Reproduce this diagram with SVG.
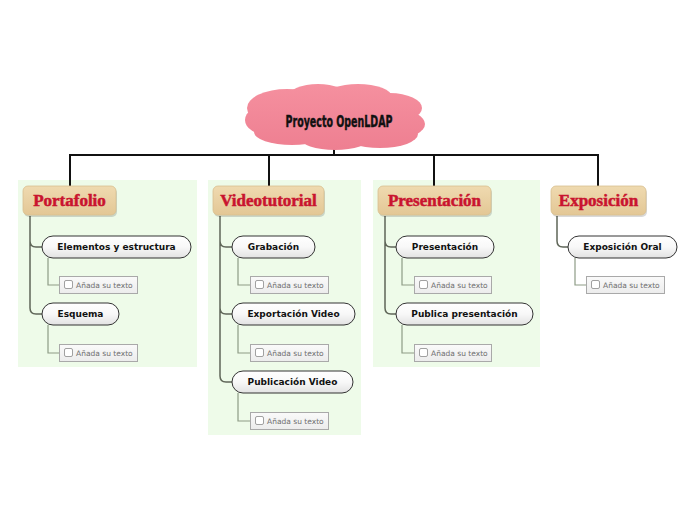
<svg xmlns="http://www.w3.org/2000/svg" width="696" height="520" viewBox="0 0 696 520">
<defs>
<linearGradient id="cloudG" gradientUnits="userSpaceOnUse" x1="0" y1="84" x2="0" y2="150">
<stop offset="0" stop-color="#f5909f"/><stop offset="1" stop-color="#ee7f91"/>
</linearGradient>
<linearGradient id="mainG" x1="0" y1="0" x2="0" y2="1">
<stop offset="0" stop-color="#efdab0"/><stop offset="1" stop-color="#e3c795"/>
</linearGradient>
<linearGradient id="subG" x1="0" y1="0" x2="0" y2="1">
<stop offset="0" stop-color="#ffffff"/><stop offset="0.5" stop-color="#f8f8f8"/><stop offset="1" stop-color="#e2e2e2"/>
</linearGradient>
<linearGradient id="noteG" x1="0" y1="0" x2="0" y2="1">
<stop offset="0" stop-color="#fafafa"/><stop offset="1" stop-color="#ececec"/>
</linearGradient>
</defs>
<style>
.panel{fill:#eefbe9}
.main rect.bg{fill:url(#mainG);stroke:#d8bf8f;stroke-width:0.8}
.main rect.sh{fill:#000;opacity:0.15}
.main text{font-family:"Liberation Serif",serif;font-weight:bold;font-size:17px;fill:#c9142f;stroke:#c9142f;stroke-width:0.5;text-anchor:middle}
.sub rect{fill:url(#subG);stroke:#333;stroke-width:1}
.sub text{font-family:"DejaVu Sans",sans-serif;font-weight:bold;font-size:9px;fill:#111;text-anchor:middle}
.note rect.box{fill:url(#noteG);stroke:#a9a9a9;stroke-width:1}
.note rect.cb{fill:#fff;stroke:#8a8a8a;stroke-width:0.8}
.note text{font-family:"DejaVu Sans",sans-serif;font-size:7.5px;fill:#6f6f6f}
.top{stroke:#111;stroke-width:2;fill:none}
.lvl1{stroke:#5f6658;stroke-width:1.5;fill:none}
.lvl2{stroke:#8e9c86;stroke-width:1.2;fill:none}
</style>
<rect width="696" height="520" fill="#fff"/>
<g id="panels">
<rect class="panel" x="18" y="180" width="179" height="187"/>
<rect class="panel" x="208" y="180" width="153" height="255"/>
<rect class="panel" x="373" y="180" width="167" height="187"/>
</g>
<g id="connectors">
<path class="top" d="M334 147V155M70 155H598M70 154V187M269 154V187M434 154V187M598 154V187"/>
<path class="lvl1" d="M30 216V241Q30 247 36 247H42M30 241V308Q30 314 36 314H42"/>
<path class="lvl2" d="M48 258V285H59M48 325V353H59"/>
<path class="lvl1" d="M220 216V241Q220 247 226 247H232M220 241V308Q220 314 226 314H232M220 308V376Q220 382 226 382H232"/>
<path class="lvl2" d="M238 258V285H250M238 325V353H250M238 393V421H250"/>
<path class="lvl1" d="M385 216V241Q385 247 391 247H396M385 241V308Q385 314 391 314H396"/>
<path class="lvl2" d="M402 258V285H414M402 325V353H414"/>
<path class="lvl1" d="M557 216V241Q557 247 563 247H568"/>
<path class="lvl2" d="M575 258V285H586"/>
</g>
<g id="root">
<g fill="url(#cloudG)">
<ellipse cx="287" cy="108" rx="40" ry="19"/>
<ellipse cx="318" cy="97" rx="30" ry="13"/>
<ellipse cx="358" cy="97" rx="34" ry="13"/>
<ellipse cx="390" cy="108" rx="32" ry="15"/>
<ellipse cx="398" cy="124" rx="27" ry="14"/>
<ellipse cx="380" cy="134" rx="38" ry="14"/>
<ellipse cx="335" cy="138" rx="35" ry="12"/>
<ellipse cx="292" cy="132" rx="38" ry="13"/>
<ellipse cx="268" cy="120" rx="23" ry="15"/>
<ellipse cx="335" cy="118" rx="70" ry="24"/>
</g>
<text x="339" y="127" font-family="'DejaVu Sans Condensed','DejaVu Sans',sans-serif" font-weight="bold" font-size="15" fill="#111" stroke="#111" stroke-width="0.4" text-anchor="middle" textLength="107" lengthAdjust="spacingAndGlyphs">Proyecto OpenLDAP</text>
</g>
<g id="portafolio" class="main">
<rect class="sh" x="24" y="188" width="93" height="29" rx="5"/>
<rect class="bg" x="23" y="186" width="93" height="29" rx="5"/>
<text x="69.5" y="206">Portafolio</text>
</g>
<g id="videotutorial" class="main">
<rect class="sh" x="214" y="188" width="111" height="29" rx="5"/>
<rect class="bg" x="213" y="186" width="111" height="29" rx="5"/>
<text x="268.5" y="206">Videotutorial</text>
</g>
<g id="presentacion" class="main">
<rect class="sh" x="379" y="188" width="113" height="29" rx="5"/>
<rect class="bg" x="378" y="186" width="113" height="29" rx="5"/>
<text x="434.5" y="206">Presentación</text>
</g>
<g id="exposicion" class="main">
<rect class="sh" x="552" y="188" width="95" height="29" rx="5"/>
<rect class="bg" x="551" y="186" width="95" height="29" rx="5"/>
<text x="598.5" y="206">Exposición</text>
</g>
<g id="elementos" class="sub"><rect x="42" y="236" width="149" height="22" rx="11"/><text x="116.5" y="250">Elementos y estructura</text></g>
<g id="esquema" class="sub"><rect x="42" y="303" width="77" height="22" rx="11"/><text x="80.5" y="317">Esquema</text></g>
<g id="grabacion" class="sub"><rect x="232" y="236" width="83" height="22" rx="11"/><text x="273.5" y="250">Grabación</text></g>
<g id="exportacion" class="sub"><rect x="232" y="303" width="123" height="22" rx="11"/><text x="293.5" y="317">Exportación Video</text></g>
<g id="publicacion" class="sub"><rect x="232" y="371" width="121" height="22" rx="11"/><text x="292.5" y="385">Publicación Video</text></g>
<g id="presentacion-sub" class="sub"><rect x="396" y="236" width="98" height="22" rx="11"/><text x="445" y="250">Presentación</text></g>
<g id="publica" class="sub"><rect x="396" y="303" width="137" height="22" rx="11"/><text x="464.5" y="317">Publica presentación</text></g>
<g id="oral" class="sub"><rect x="568" y="236" width="109" height="22" rx="11"/><text x="622.5" y="250">Exposición Oral</text></g>
<g id="note1" class="note"><rect class="box" x="59.5" y="276.5" width="78" height="17"/><rect class="cb" x="64.5" y="280.5" width="8" height="8" rx="1.5"/><text x="76" y="288">Añada su texto</text></g>
<g id="note2" class="note"><rect class="box" x="59.5" y="344.5" width="78" height="17"/><rect class="cb" x="64.5" y="348.5" width="8" height="8" rx="1.5"/><text x="76" y="356">Añada su texto</text></g>
<g id="note3" class="note"><rect class="box" x="250.5" y="276.5" width="78" height="17"/><rect class="cb" x="255.5" y="280.5" width="8" height="8" rx="1.5"/><text x="267" y="288">Añada su texto</text></g>
<g id="note4" class="note"><rect class="box" x="250.5" y="344.5" width="78" height="17"/><rect class="cb" x="255.5" y="348.5" width="8" height="8" rx="1.5"/><text x="267" y="356">Añada su texto</text></g>
<g id="note5" class="note"><rect class="box" x="250.5" y="412.5" width="78" height="17"/><rect class="cb" x="255.5" y="416.5" width="8" height="8" rx="1.5"/><text x="267" y="424">Añada su texto</text></g>
<g id="note6" class="note"><rect class="box" x="414.5" y="276.5" width="77" height="17"/><rect class="cb" x="419.5" y="280.5" width="8" height="8" rx="1.5"/><text x="431" y="288">Añada su texto</text></g>
<g id="note7" class="note"><rect class="box" x="414.5" y="344.5" width="77" height="17"/><rect class="cb" x="419.5" y="348.5" width="8" height="8" rx="1.5"/><text x="431" y="356">Añada su texto</text></g>
<g id="note8" class="note"><rect class="box" x="586.5" y="276.5" width="78" height="17"/><rect class="cb" x="591.5" y="280.5" width="8" height="8" rx="1.5"/><text x="603" y="288">Añada su texto</text></g>
</svg>
